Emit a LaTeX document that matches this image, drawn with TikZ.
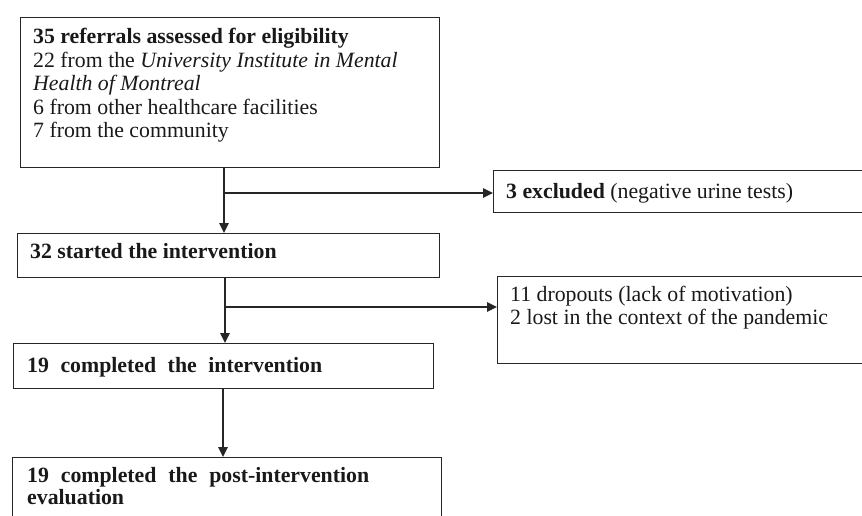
\documentclass[tikz,border=0pt]{standalone}
\usepackage{fontspec}
\setmainfont{Liberation Serif}
\usetikzlibrary{arrows.meta}
\begin{document}
\begin{tikzpicture}[x=1pt,y=-1pt,
  box/.style={draw=black!85, line width=1.3pt, inner sep=0pt, anchor=north west},
  txt/.style={inner sep=0pt, anchor=base west, text=black!90, font=\fontsize{21.8}{23.5}\selectfont},
  conn/.style={draw=black!85, line width=1.3pt},
  arr/.style={conn, -{Triangle[width=9.5pt,length=10pt]}}]
\useasboundingbox (0,0) rectangle (862,516);
\clip (0,0) rectangle (862,516);
% boxes
\node[box, minimum width=419pt, minimum height=150pt] (top) at (20,17) {};
\node[box, minimum width=380pt, minimum height=42pt] (excl) at (493,170) {};
\node[box, minimum width=422pt, minimum height=44pt] (start) at (17,233) {};
\node[box, minimum width=380pt, minimum height=87pt] (drop) at (497,276) {};
\node[box, minimum width=420pt, minimum height=45pt] (compl) at (13,343) {};
\node[box, minimum width=429pt, minimum height=80pt] (post) at (12,457) {};
% texts
\node[txt] (t1) at (33,44) {\textbf{35 referrals assessed for eligibility}};
\node[txt] (t2) at (33,67.5) {22 from the \textit{University Institute in Mental}};
\node[txt] (t3) at (33,91) {\textit{Health of Montreal}};
\node[txt] (t4) at (33,114.5) {6 from other healthcare facilities};
\node[txt] (t5) at (33,138) {7 from the community};
\node[txt] (e1) at (506,198) {\textbf{3 excluded} (negative urine tests)};
\node[txt] (s1) at (30,258) {\textbf{32 started the intervention}};
\node[txt] (d1) at (510,301) {11 dropouts (lack of motivation)};
\node[txt] (d2) at (510,324) {2 lost in the context of the pandemic};
\node[txt] (c1) at (27,372) {\makebox[295pt][s]{\textbf{19 completed the intervention}}};
\node[txt] (p1) at (27,482) {\makebox[342pt][s]{\textbf{19 completed the post-intervention}}};
\node[txt] (p2) at (27,504) {\textbf{evaluation}};
% connectors
\coordinate (k1) at (224,193);
\coordinate (k2) at (225,307);
\coordinate (k3) at (223,0);
\draw[arr] (top.south -| k1) -- (start.north -| k1);
\draw[arr] (k1) -- (excl.west |- k1);
\draw[arr] (start.south -| k2) -- (compl.north -| k2);
\draw[arr] (k2) -- (drop.west |- k2);
\draw[arr] (compl.south -| k3) -- (post.north -| k3);
\end{tikzpicture}
\end{document}
